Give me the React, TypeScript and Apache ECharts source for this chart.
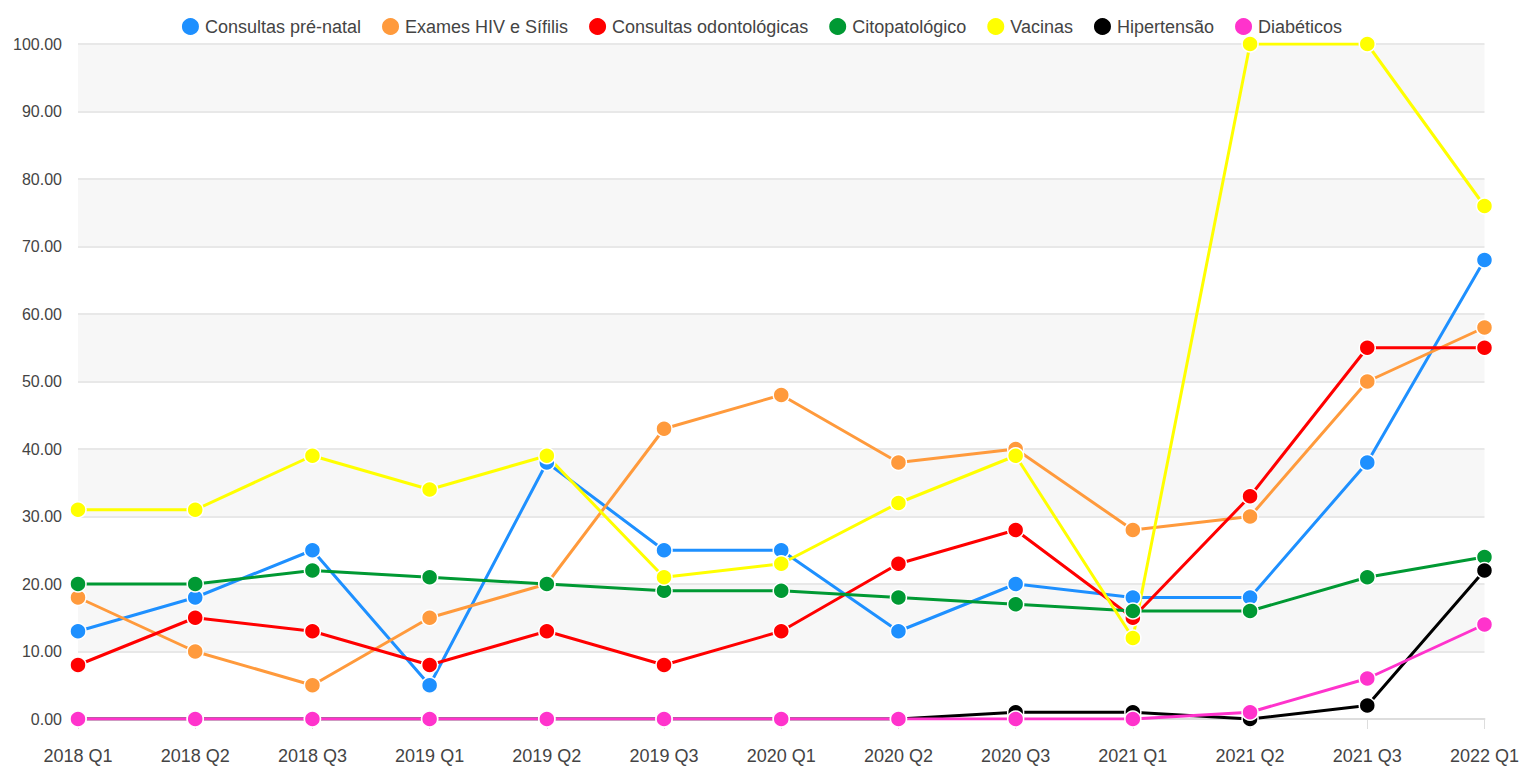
import React, { useEffect, useRef } from "react";
import * as echarts from "echarts";

const categories = ["2018 Q1", "2018 Q2", "2018 Q3", "2019 Q1", "2019 Q2", "2019 Q3", "2020 Q1", "2020 Q2", "2020 Q3", "2021 Q1", "2021 Q2", "2021 Q3", "2022 Q1"];

const preNatal = [13, 18, 25, 5, 38, 25, 25, 13, 20, 18, 18, 38, 68];
const hivSifilis = [18, 10, 5, 15, 20, 43, 48, 38, 40, 28, 30, 50, 58];
const odontologicas = [8, 15, 13, 8, 13, 8, 13, 23, 28, 15, 33, 55, 55];
const citopatologico = [20, 20, 22, 21, 20, 19, 19, 18, 17, 16, 16, 21, 24];
const vacinas = [31, 31, 39, 34, 39, 21, 23, 32, 39, 12, 100, 100, 76];
const hipertensao = [0, 0, 0, 0, 0, 0, 0, 0, 1, 1, 0, 2, 22];
const diabeticos = [0, 0, 0, 0, 0, 0, 0, 0, 0, 0, 1, 6, 14];

const seriesDefs = [
  { name: "Consultas pré-natal", data: preNatal, color: "#1e90ff" },
  { name: "Exames HIV e Sífilis", data: hivSifilis, color: "#ff9a3c" },
  { name: "Consultas odontológicas", data: odontologicas, color: "#ff0000" },
  { name: "Citopatológico", data: citopatologico, color: "#009933" },
  { name: "Vacinas", data: vacinas, color: "#ffff00" },
  { name: "Hipertensão", data: hipertensao, color: "#000000" },
  { name: "Diabéticos", data: diabeticos, color: "#ff33cc" },
];

const FONT = "Liberation Sans, Arial, sans-serif";

export default function App() {
  const ref = useRef<HTMLDivElement>(null);
  useEffect(() => {
    if (!ref.current) return;
    const chart = echarts.init(ref.current, undefined, { renderer: "svg" });
    chart.setOption({
      animation: false,
      backgroundColor: "#ffffff",
      color: seriesDefs.map((s) => s.color),
      legend: {
        top: 11,
        left: "center",
        icon: "circle",
        itemWidth: 19,
        itemHeight: 19,
        itemGap: 19,
        textStyle: { fontSize: 18, color: "#444", fontFamily: FONT },
        data: seriesDefs.map((s) => s.name),
      },
      grid: { left: 78, right: 37, top: 44, bottom: 53, containLabel: false },
      xAxis: {
        type: "category",
        boundaryGap: false,
        data: categories,
        axisLine: { lineStyle: { color: "#dddddd", width: 2 } },
        axisTick: { show: true, length: 10, lineStyle: { color: "#dddddd" } },
        axisLabel: { fontSize: 18, color: "#444", margin: 28, fontFamily: FONT },
      },
      yAxis: {
        type: "value",
        min: 0,
        max: 100,
        interval: 10,
        axisLine: { show: false },
        axisTick: { show: false },
        axisLabel: {
          fontSize: 16,
          color: "#444",
          margin: 16,
          fontFamily: FONT,
          formatter: (v: number) => v.toFixed(2),
        },
        splitLine: { lineStyle: { color: "#e8e8e8", width: 2 } },
        splitArea: { show: true, areaStyle: { color: ["rgba(255,255,255,0)", "#f7f7f7"] } },
      },
      series: seriesDefs.map((s) => ({
        name: s.name,
        type: "line",
        data: s.data,
        symbol: "circle",
        symbolSize: 16,
        lineStyle: { width: 3, color: s.color },
        itemStyle: { color: s.color, borderColor: "#ffffff", borderWidth: 1.5 },
      })),
    });
    return () => chart.dispose();
  }, []);
  return <div ref={ref} style={{ position: "fixed", left: 0, top: 0, width: 1522, height: 772 }} />;
}
